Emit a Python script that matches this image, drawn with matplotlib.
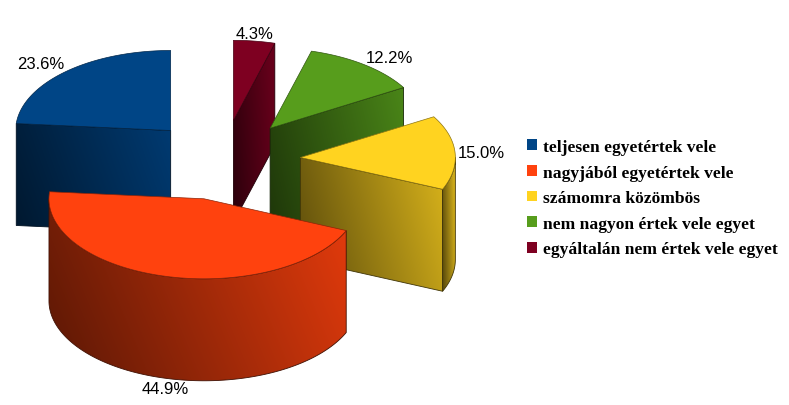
import numpy as np
import matplotlib
matplotlib.use('Agg')
import matplotlib.pyplot as plt
from matplotlib.patches import Polygon, Patch
from matplotlib.colors import to_rgb

# ---- data ----
categories = ["teljesen egyetértek vele", "nagyjából egyetértek vele",
              "számomra közömbös", "nem nagyon értek vele egyet",
              "egyáltalán nem értek vele egyet"]
values = [23.6, 44.9, 15.0, 12.2, 4.3]
value_labels = ["23.6%", "44.9%", "15.0%", "12.2%", "4.3%"]
top_colors = ["#004586", "#ff420e", "#ffd320", "#579d1c", "#7e0021"]

# ---- layout / style ----
W, H = 789, 406
CX, CY, RX, RY, EXPL, DEPTH = 223, 161, 155, 80, 0.5, 102
START = 90

fig = plt.figure(figsize=(W / 100, H / 100), dpi=100)
ax = fig.add_axes([0, 0, 1, 1])


def proj(ox, oy, ang, r=1.0, z=0.0):
    a = np.radians(ang)
    return ox + RX * r * np.cos(a), oy - RY * r * np.sin(a) + z


def gradfill(poly, rgb, z, lo=0.35, hi=0.85):
    poly = np.asarray(poly, dtype=float)
    patch = Polygon(poly, closed=True, facecolor='none', edgecolor='none', zorder=z)
    ax.add_patch(patch)
    x0, x1 = poly[:, 0].min(), poly[:, 0].max()
    y0, y1 = poly[:, 1].min(), poly[:, 1].max()
    u = np.linspace(0, 1, 200)[None, :]
    v = np.linspace(0, 1, 60)[:, None]
    f = lo + (hi - lo) * (0.8 * u + 0.2 * (1 - v))
    img = np.clip(f[..., None] * np.asarray(rgb)[None, None, :], 0, 1)
    im = ax.imshow(img, extent=(x0, x1, y1, y0), origin='upper', aspect='auto',
                   zorder=z, interpolation='bilinear')
    im.set_clip_path(patch)
    ax.add_patch(Polygon(poly, closed=True, facecolor='none',
                         edgecolor=np.asarray(rgb) * 0.25, lw=0.6, zorder=z + 0.1))


fracs = np.array(values) / np.sum(values)
angles = START + 360 * np.concatenate([[0], np.cumsum(fracs)])
mids = (angles[:-1] + angles[1:]) / 2
offs = [(CX + EXPL * RX * np.cos(np.radians(m)), CY - EXPL * RY * np.sin(np.radians(m)))
        for m in mids]
order = np.argsort([o[1] for o in offs])

for rank, i in enumerate(order):
    a0, a1 = angles[i], angles[i + 1]
    ox, oy = offs[i]
    rgb = np.array(to_rgb(top_colors[i]))
    base = 10 + 10 * rank
    # radial cut faces
    for a, normal in ((a0, a0 - 90), (a1, a1 + 90)):
        if np.sin(np.radians(normal)) < -1e-6:
            px, py = proj(ox, oy, a)
            quad = [(ox, oy), (px, py), (px, py + DEPTH), (ox, oy + DEPTH)]
            gradfill(quad, rgb, base + 1)
    # outer curved wall (front-facing part)
    for k in range(0, 2):
        lo_a = max(a0, 180 + 360 * k)
        hi_a = min(a1, 360 + 360 * k)
        if hi_a > lo_a:
            ts = np.linspace(lo_a, hi_a, 120)
            tx, ty = proj(ox, oy, ts)
            poly = np.concatenate([np.column_stack([tx, ty]),
                                   np.column_stack([tx, ty + DEPTH])[::-1]])
            gradfill(poly, rgb, base + 2, lo=0.35, hi=0.9)
    # top face
    ts = np.linspace(a0, a1, 200)
    tx, ty = proj(ox, oy, ts)
    top = np.concatenate([[[ox, oy]], np.column_stack([tx, ty])])
    ax.add_patch(Polygon(top, closed=True, facecolor=rgb, edgecolor=rgb * 0.55,
                         lw=0.5, zorder=base + 3))

# value labels
for i in range(len(values)):
    m = mids[i]
    ox, oy = offs[i]
    c, s = np.cos(np.radians(m)), np.sin(np.radians(m))
    x, y = proj(ox, oy, m, 1.0)
    x += 3 * c
    if s > 0.3:
        y -= 3
    if s < -0.3:
        y += DEPTH + 3
    ha = 'left' if c > 0.3 else ('right' if c < -0.3 else 'center')
    va = 'baseline' if s > 0.3 else ('top' if s < -0.3 else 'center')
    ax.text(x, y, value_labels[i], ha=ha, va=va, fontsize=12,
            family=['Liberation Sans', 'DejaVu Sans'], color='black', zorder=200)

ax.set_xlim(0, W)
ax.set_ylim(H, 0)
ax.axis('off')

handles = [Patch(facecolor=c, edgecolor='none') for c in top_colors]
fig.legend(handles, categories, loc='upper left',
           bbox_to_anchor=(527 / W, 1 - 140 / H), frameon=False,
           prop=dict(family=['Liberation Serif', 'DejaVu Serif'], weight='bold', size=12.6),
           handlelength=0.57, handleheight=0.57, handletextpad=0.35,
           labelspacing=0.55, borderpad=0, borderaxespad=0)

fig.savefig('out.png', dpi=100)
